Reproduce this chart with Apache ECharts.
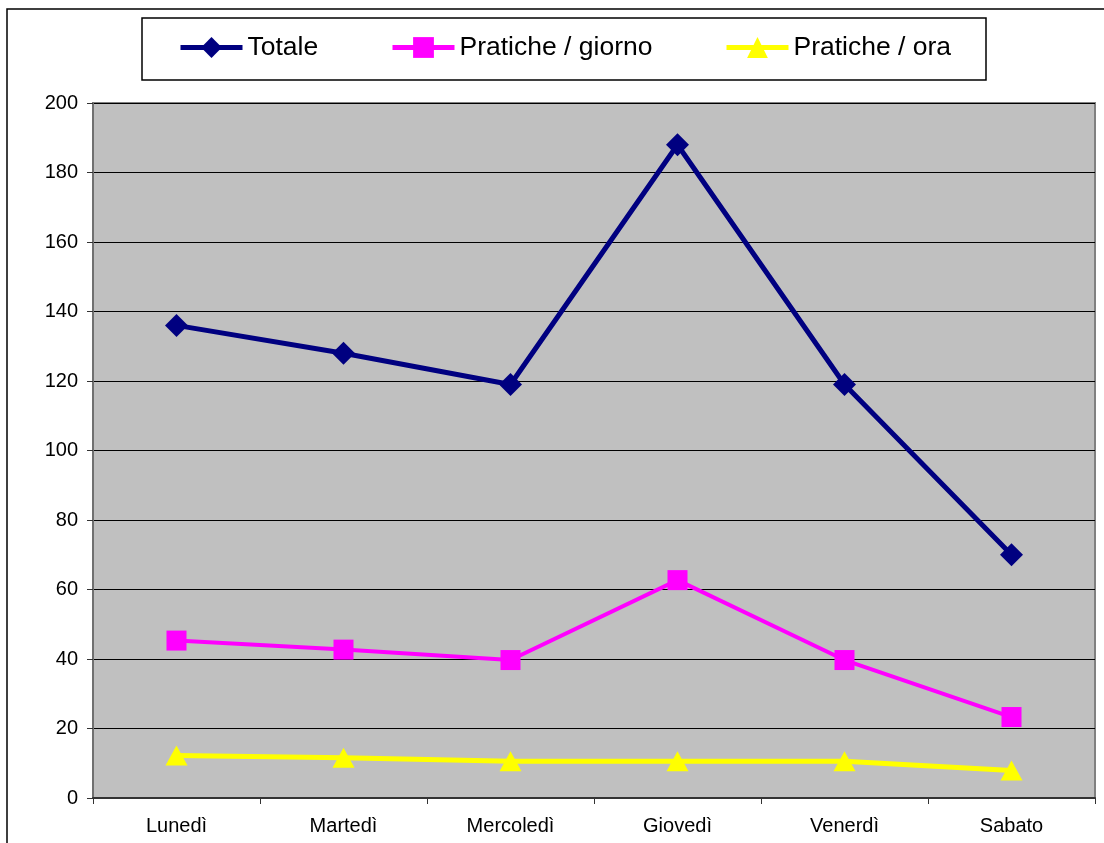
<!DOCTYPE html>
<html>
<head>
<meta charset="utf-8">
<script src="https://cdn.jsdelivr.net/npm/echarts@6/dist/echarts.min.js"></script>
<style>
    html, body { margin: 0; padding: 0; background: #fff; }
    #chart { width: 1104px; height: 843px; }
</style>
</head>
<body>
<div id="chart"></div>
<script>
    // dati
    const days = ['Lunedì', 'Martedì', 'Mercoledì', 'Giovedì', 'Venerdì', 'Sabato']
    const totale = [136, 128, 119, 188, 119, 70]
    const praticheGiorno = [45.3, 42.7, 39.7, 62.7, 39.7, 23.3]
    const praticheOra = [12.2, 11.6, 10.6, 10.6, 10.6, 7.9]
    const yTicks = { min: 0, max: 200, interval: 20 }

    const font = 'Liberation Sans, Arial, sans-serif'
    let myChart = echarts.init(document.getElementById('chart'))

    function legendAt(name, left) {
        return {
            data: [name],
            left: left,
            top: 34,
            itemWidth: 62,
            itemHeight: 26,
            itemGap: 0,
            padding: 0,
            selectedMode: false,
            lineStyle: { width: 5 },
            textStyle: { color: '#000', fontSize: 26.5, fontFamily: font }
        }
    }

    let option = {
        backgroundColor: '#fff',
        animation: false,
        graphic: [
            {
                type: 'rect', z: -10,
                shape: { x: 7, y: 9, width: 1300, height: 1000 },
                style: { fill: '#fff', stroke: '#000', lineWidth: 1.5 }
            },
            {
                type: 'rect', z: -5,
                shape: { x: 142, y: 18, width: 844, height: 62 },
                style: { fill: '#fff', stroke: '#000', lineWidth: 1.5 }
            }
        ],
        legend: [
            legendAt('Totale', 178),
            legendAt('Pratiche / giorno', 390),
            legendAt('Pratiche / ora', 724)
        ],
        grid: {
            left: 93,
            top: 103,
            right: 9,
            bottom: 45,
            show: true,
            backgroundColor: '#c0c0c0',
            borderColor: '#808080',
            borderWidth: 2
        },
        xAxis: {
            type: 'category',
            data: days,
            boundaryGap: true,
            axisLine: { lineStyle: { color: '#333', width: 2 } },
            axisTick: { show: true, length: 6, lineStyle: { color: '#333' } },
            axisLabel: { color: '#000', fontSize: 20, fontFamily: font, margin: 18 }
        },
        yAxis: {
            type: 'value',
            min: yTicks.min,
            max: yTicks.max,
            interval: yTicks.interval,
            axisLine: { show: true, lineStyle: { color: '#707070', width: 2 } },
            axisTick: { show: true, length: 6, lineStyle: { color: '#333' } },
            axisLabel: { color: '#000', fontSize: 20, fontFamily: font, margin: 15 },
            splitLine: { show: true, lineStyle: { color: '#000', width: 1 } }
        },
        series: [
            {
                name: 'Totale',
                type: 'line',
                data: totale,
                symbol: 'diamond',
                symbolSize: 23,
                lineStyle: { color: '#000080', width: 5 },
                itemStyle: { color: '#000080' }
            },
            {
                name: 'Pratiche / giorno',
                type: 'line',
                data: praticheGiorno,
                symbol: 'rect',
                symbolSize: 20,
                lineStyle: { color: '#ff00ff', width: 4 },
                itemStyle: { color: '#ff00ff' }
            },
            {
                name: 'Pratiche / ora',
                type: 'line',
                data: praticheOra,
                symbol: 'triangle',
                symbolSize: [22, 20],
                lineStyle: { color: '#ffff00', width: 5 },
                itemStyle: { color: '#ffff00' }
            }
        ]
    }
    myChart.setOption(option)
</script>
</body>
</html>
